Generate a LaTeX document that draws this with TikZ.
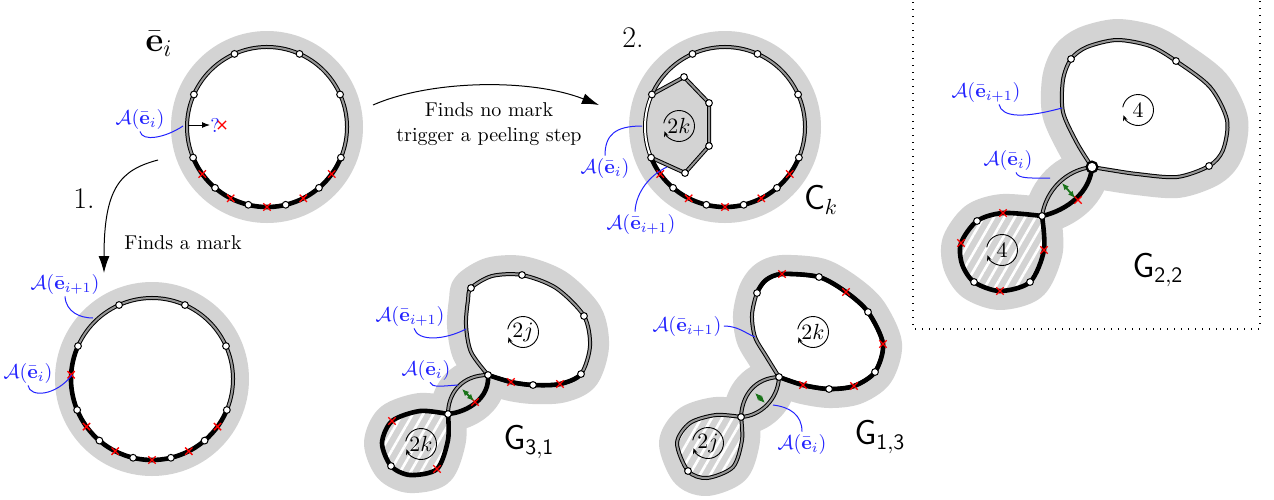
\documentclass[tikz,border=0pt]{standalone}
\usepackage{amsmath}
\usetikzlibrary{arrows.meta,calc,patterns.meta,shapes.misc}
\definecolor{halogray}{RGB}{211,211,211}
\definecolor{dgray}{RGB}{150,150,150}
\definecolor{lblue}{RGB}{35,35,255}
\definecolor{dgreen}{RGB}{25,115,25}
\newcommand\cyclab[3]{%
  \node[font=\fontsize{11}{13}\selectfont, inner sep=0pt] (#1) at #2 {$#3$};
  \draw[cyc] ($(#1)+(-170:15.5)$) arc[start angle=-170, end angle=160, radius=15.5];}
\begin{document}
\begin{tikzpicture}[x=0.5pt,y=-0.5pt,
 haloline/.style={draw=halogray, line width=18pt, line join=round, line cap=round},
 dbl/.style={draw=black, line width=0.5pt, double=dgray, double distance=1pt},
 dblw/.style={draw=black, line width=0.5pt, double=white, double distance=1pt},
 thk/.style={draw=black, line width=2.3pt},
 vtx/.style={circle, fill=white, draw=black, line width=0.5pt, inner sep=0pt, minimum size=3.4pt},
 bigvtx/.style={circle, fill=white, draw=black, line width=1.1pt, inner sep=0pt, minimum size=5.4pt},
 mk/.style={cross out, draw=red, line width=0.65pt, inner sep=0pt, minimum size=3pt},
 lab/.style={text=lblue, inner sep=1pt},
 lline/.style={draw=lblue, line width=0.5pt},
 garr/.style={{Latex[length=3.5pt,width=3pt]}-{Latex[length=3.5pt,width=3pt]}, draw=dgreen, line width=0.9pt},
 bigarr/.style={-{Latex[length=8.5pt,width=5.5pt]}, line width=0.5pt},
 cyc/.style={-{Stealth[length=2.8pt,width=2.4pt]}, line width=0.45pt},
 hatch/.style={fill=halogray, postaction={pattern={Lines[angle=60,distance=4.5pt,line width=1.3pt]}, pattern color=white}},
 dotbox/.style={line width=0.7pt, dash pattern=on 0.7pt off 2.8pt},
 glab/.style={font=\fontsize{16}{19}\selectfont, inner sep=0pt}
]
\useasboundingbox (0,0) rectangle (1274,499);

% ---------------- circle 1
\coordinate (C1) at (267,127);
\fill[halogray] (C1) circle (96);
\fill[white] (C1) circle (80);
\draw[dbl] ($(C1)+(22.5:80)$) arc[start angle=22.5, end angle=-202.5, radius=80];
\draw[thk] ($(C1)+(157.5:80)$) arc[start angle=157.5, end angle=22.5, radius=80];
\foreach \a [count=\i] in {36,63,90,117,144} \node[mk] (c1x\i) at ($(C1)+(\a:80)$) {};
\foreach \a [count=\i] in {-24,-66,-114,-156,157.5,22.5,49.5,76.5,103.5,130.5} \node[vtx] (c1v\i) at ($(C1)+(\a:80)$) {};
\coordinate (q0) at (188,125);
\coordinate (q1) at (210,125);
\draw[-{Latex[length=4pt,width=3pt]}, line width=0.5pt] (q0) -- (q1);
\node[text=lblue, inner sep=0pt] (qm) at (215,125) {?};
\node[mk, minimum size=3.4pt] (qx) at (222,125) {};
\node[lab] (lA1) at (140,119) {$\mathcal{A}(\bar{\mathbf{e}}_i)$};
\coordinate (e1) at (183,126);
\draw[lline] (lA1.south) .. controls (142,142) and (165,138) .. (e1);
\node[font=\LARGE, inner sep=0pt] (ebar) at (159,44) {$\bar{\mathbf{e}}_i$};

% ---------------- arrows
\coordinate (s1) at (158,160);
\coordinate (t1) at (104,273);
\draw[bigarr] (s1) .. controls (120,170) and (104,188) .. (t1);
\node[font=\fontsize{15}{18}\selectfont, inner sep=0pt] (one) at (84,199) {1.};
\node[inner sep=0pt] (fm) at (183,243) {Finds a mark};
\coordinate (s2) at (373,105);
\coordinate (t2) at (599,105);
\draw[bigarr] (s2) .. controls (430,80) and (530,78) .. (t2);
\node[align=center, inner sep=0pt, font=\fontsize{10}{12.5}\selectfont] (fnm) at (489,124) {Finds no mark\\trigger a peeling step};
\node[font=\fontsize{15}{18}\selectfont, inner sep=0pt] (two) at (633,38) {2.};

% ---------------- circle 2
\coordinate (C2) at (152,379);
\fill[halogray] (C2) circle (97);
\fill[white] (C2) circle (81);
\draw[dbl] ($(C2)+(22.5:81)$) arc[start angle=22.5, end angle=-156, radius=81];
\draw[thk] ($(C2)+(-156:81)$) arc[start angle=-156, end angle=-337.5, radius=81];
\foreach \a [count=\i] in {-177,36,63,90,117,144} \node[mk] (c2x\i) at ($(C2)+(\a:81)$) {};
\foreach \a [count=\i] in {-24,-66,-114,-156,157.5,22.5,49.5,76.5,103.5,130.5} \node[vtx] (c2v\i) at ($(C2)+(\a:81)$) {};
\node[lab] (lA2n) at (65,284) {$\mathcal{A}(\bar{\mathbf{e}}_{i+1})$};
\coordinate (e2n) at (93,318);
\draw[lline] (lA2n.south) .. controls (66,312) and (80,318) .. (e2n);
\node[lab] (lA2) at (28,373) {$\mathcal{A}(\bar{\mathbf{e}}_i)$};
\coordinate (e2) at (72,375);
\draw[lline] (lA2.south) .. controls (30,398) and (56,396) .. (e2);

% ---------------- circle 3 (C_k)
\coordinate (C3) at (725,127);
\fill[halogray] (C3) circle (96);
\fill[white] (C3) circle (80);
\coordinate (P1) at ($(C3)+(-156:80)$);
\coordinate (P2) at (684,77);
\coordinate (P3) at (709,103);
\coordinate (P4) at (709,146);
\coordinate (P5) at (685,173);
\coordinate (P6) at ($(C3)+(157.5:80)$);
\fill[halogray] (P1) -- (P2) -- (P3) -- (P4) -- (P5) -- (P6) arc[start angle=157.5, end angle=204, radius=80] -- cycle;
\draw[dbl] (P1) -- (P2) -- (P3) -- (P4) -- (P5) -- (P6);
\draw[dblw] (P6) arc[start angle=157.5, end angle=204, radius=80];
\draw[dbl] ($(C3)+(22.5:80)$) arc[start angle=22.5, end angle=-156, radius=80];
\draw[thk] ($(C3)+(157.5:80)$) arc[start angle=157.5, end angle=22.5, radius=80];
\foreach \a [count=\i] in {36,63,90,117,144} \node[mk] (c3x\i) at ($(C3)+(\a:80)$) {};
\foreach \a [count=\i] in {-24,-66,-114,-156,157.5,22.5,49.5,76.5,103.5,130.5} \node[vtx] (c3v\i) at ($(C3)+(\a:80)$) {};
\foreach \p in {P2,P3,P4,P5} \node[vtx] (v\p) at (\p) {};
\cyclab{k3}{(679,126)}{2k}
\node[lab] (lA3) at (605,168) {$\mathcal{A}(\bar{\mathbf{e}}_i)$};
\coordinate (e3) at (642,126);
\draw[lline] (lA3.north) .. controls (605,135) and (615,126) .. (e3);
\node[lab] (lA3n) at (641,224) {$\mathcal{A}(\bar{\mathbf{e}}_{i+1})$};
\coordinate (e3n) at (667,167);
\draw[lline] ([xshift=-3pt]lA3n.north) .. controls (636,192) and (650,175) .. (e3n);
\node[glab] (Ck) at (821,200) {$\mathsf{C}_k$};

% ---------------- G_{3,1}
\coordinate (aJ1) at (488,375);
\coordinate (aJ2) at (448,414);
\def\aBig{plot[smooth] coordinates {(488,375) (471,352) (466,325) (468,300) (471,288) (492,276) (522,275) (556,288) (584,316) (590,346) (581,374) (560,384) (533,385) (511,382) (488,375)}}
\def\aSm{plot[smooth] coordinates {(448,414) (420,411) (392,421) (382,443) (391,466) (410,475) (437,469) (448,440) (448,414)}}
\def\aUp{(aJ1) .. controls (462,375) and (448,393) .. (aJ2)}
\def\aLo{(aJ1) .. controls (490,398) and (468,412) .. (aJ2)}
\path[haloline, line width=19pt, fill=halogray] \aBig;
\path[haloline, fill=halogray] \aSm;
\path[haloline] \aUp;
\path[haloline] \aLo;
\fill[white] \aBig;
\path[hatch] \aSm;
\draw[dbl] \aBig;
\begin{scope}
\clip (474,389) -- (488,375) -- (502,361) -- (565,361) -- (581,374) -- (597,387) -- (597,420) -- (474,420) -- cycle;
\draw[thk] \aBig;
\end{scope}
\draw[dbl] \aUp;
\draw[thk] \aLo;
\draw[thk] \aSm;
\foreach \p [count=\i] in {(560,384),(511,382),(475,402),(392,421),(437,469)} \node[mk] (ax\i) at \p {};
\foreach \p [count=\i] in {(471,288),(522,275),(584,316),(581,374),(533,385),(391,466)} \node[vtx] (av\i) at \p {};
\node[vtx] (aj1) at (aJ1) {};
\node[vtx] (aj2) at (aJ2) {};
\coordinate (ag1) at (462,389);
\coordinate (ag2) at (474,401);
\draw[garr] (ag1) -- (ag2);
\cyclab{aj}{(523,332)}{2j}
\cyclab{ak}{(421,444)}{2k}
\node[lab] (lG1n) at (410,316) {$\mathcal{A}(\bar{\mathbf{e}}_{i+1})$};
\coordinate (eg1n) at (466,329);
\draw[lline] ([xshift=2pt]lG1n.south) .. controls (418,342) and (445,340) .. (eg1n);
\node[lab] (lG1) at (426,370) {$\mathcal{A}(\bar{\mathbf{e}}_i)$};
\coordinate (eg1) at (458,385);
\draw[lline] ([xshift=2pt]lG1.south) .. controls (432,388) and (442,386) .. (eg1);
\node[glab] (G31) at (529,442) {$\mathsf{G}_{\mathsf{3,1}}$};

% ---------------- G_{1,3}
\coordinate (bJ1) at (779,377);
\coordinate (bJ2) at (741,417);
\def\bBig{plot[smooth] coordinates {(779,377) (766,356) (755,337) (752,315) (757,293) (766,280) (782,274) (819,277) (846,292) (868,312) (883,344) (875,372) (854,386) (829,389) (803,385) (779,377)}}
\def\bSm{plot[smooth] coordinates {(741,417) (716,415) (690,423) (677,443) (688,471) (707,478) (733,467) (742,440) (741,417)}}
\def\bUp{(bJ1) .. controls (755,378) and (742,395) .. (bJ2)}
\def\bLo{(bJ1) .. controls (778,400) and (760,416) .. (bJ2)}
\path[haloline, line width=19pt, fill=halogray] \bBig;
\path[haloline, fill=halogray] \bSm;
\path[haloline] \bUp;
\path[haloline] \bLo;
\fill[white] \bBig;
\path[hatch] \bSm;
\draw[dbl] \bBig;
\begin{scope}
\clip (738,286) -- (776,300) -- (793,363) -- (779,377) -- (765,391) -- (765,420) -- (920,420) -- (920,250) -- (738,250) -- cycle;
\draw[thk] \bBig;
\end{scope}
\draw[dbl] \bUp;
\draw[dbl] \bLo;
\draw[dbl] \bSm;
\foreach \p [count=\i] in {(782,274),(846,292),(883,344),(854,386),(803,385)} \node[mk] (bx\i) at \p {};
\foreach \p [count=\i] in {(757,293),(819,277),(868,312),(875,372),(829,389),(688,471)} \node[vtx] (bv\i) at \p {};
\node[vtx] (bj1) at (bJ1) {};
\node[vtx] (bj2) at (bJ2) {};
\coordinate (bg1) at (755,393);
\coordinate (bg2) at (765,403);
\draw[garr] (bg1) -- (bg2);
\cyclab{bk}{(813,332)}{2k}
\cyclab{bj}{(708,443)}{2j}
\node[lab] (lG3n) at (687,326) {$\mathcal{A}(\bar{\mathbf{e}}_{i+1})$};
\coordinate (eg3n) at (755,337);
\draw[lline] (lG3n.east) .. controls (738,326) and (745,333) .. (eg3n);
\node[lab] (lG3) at (802,444) {$\mathcal{A}(\bar{\mathbf{e}}_i)$};
\coordinate (eg3) at (773,405);
\draw[lline] (lG3.north) .. controls (802,415) and (790,407) .. (eg3);
\node[glab] (G13) at (880,437) {$\mathsf{G}_{\mathsf{1,3}}$};

% ---------------- G_{2,2}
\draw[dotbox] (913,-5) -- (913,329) -- (1260,329) -- (1260,-5);
\coordinate (cJ1) at (1092,167);
\coordinate (cJ2) at (1042,216);
\def\cBig{plot[smooth] coordinates {(1092,167) (1077,143) (1063,112) (1063,80) (1071,59) (1087,47) (1117,40) (1150,46) (1176,61) (1210,87) (1227,120) (1223,150) (1209,166) (1177,177) (1137,174) (1110,170) (1092,167)}}
\def\cSm{plot[smooth] coordinates {(1042,216) (1003,213) (977,221) (961,243) (962,264) (974,282) (1000,291) (1030,282) (1044,250) (1042,216)}}
\def\cUp{(cJ1) .. controls (1066,170) and (1046,190) .. (cJ2)}
\def\cLo{(cJ1) .. controls (1090,192) and (1068,210) .. (cJ2)}
\path[haloline, line width=21pt, fill=halogray] \cBig;
\path[haloline, line width=19pt, fill=halogray] \cSm;
\path[haloline] \cUp;
\path[haloline] \cLo;
\fill[white] \cBig;
\path[hatch] \cSm;
\draw[dbl] \cBig;
\draw[dbl] \cUp;
\draw[thk] \cLo;
\draw[thk] \cSm;
\foreach \p [count=\i] in {(1078,200),(1003,213),(961,243),(1000,291),(1044,250)} \node[mk] (cx\i) at \p {};
\foreach \p [count=\i] in {(1071,59),(1176,61),(1209,166),(977,221),(974,282),(1030,282)} \node[vtx] (cv\i) at \p {};
\node[bigvtx] (cj1) at (cJ1) {};
\node[vtx] (cj2) at (cJ2) {};
\coordinate (cg1) at (1062,183);
\coordinate (cg2) at (1075,198);
\draw[garr] (cg1) -- (cg2);
\cyclab{cf}{(1138,110)}{4}
\cyclab{cs}{(1002,250)}{4}
\node[lab] (lG2n) at (986,92) {$\mathcal{A}(\bar{\mathbf{e}}_{i+1})$};
\coordinate (eg2n) at (1062,108);
\draw[lline] ([xshift=6.5pt]lG2n.south) .. controls (1002,118) and (1025,118) .. (eg2n);
\node[lab] (lG2) at (1008,160) {$\mathcal{A}(\bar{\mathbf{e}}_i)$};
\coordinate (eg2) at (1050,178);
\draw[lline] ([xshift=4pt]lG2.south) .. controls (1018,179) and (1030,178) .. (eg2);
\node[glab] (G22) at (1158,270) {$\mathsf{G}_{\mathsf{2,2}}$};
\end{tikzpicture}
\end{document}
